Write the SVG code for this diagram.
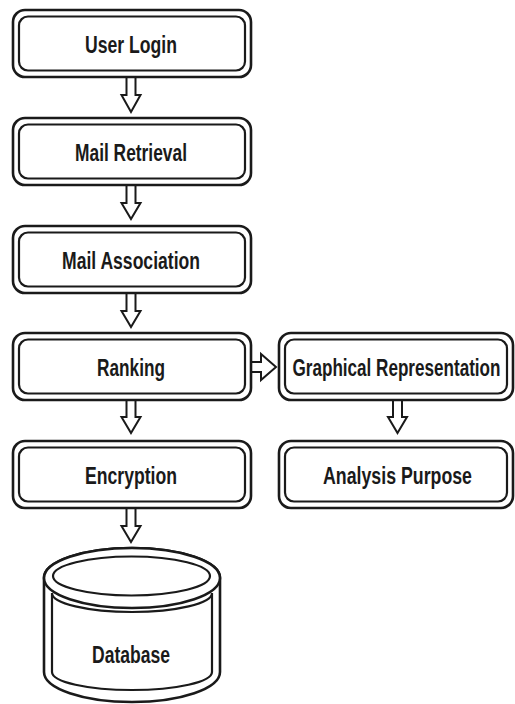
<svg xmlns="http://www.w3.org/2000/svg" width="515" height="704" viewBox="0 0 515 704">
  <style>
    .outer { fill: #ffffff; stroke: #1a1a1a; stroke-width: 2.6; }
    .inner { fill: #ffffff; stroke: #1a1a1a; stroke-width: 2.2; }
    .arrow { fill: #ffffff; stroke: #1a1a1a; stroke-width: 2; stroke-linejoin: miter; }
    .label { font-family: "Liberation Sans", Arial, sans-serif; font-weight: bold; font-size: 23px; fill: #1a1a1a; text-anchor: middle; }
  </style>
  <rect width="515" height="704" fill="#ffffff"/>

  <!-- connectors: hollow block arrows -->
  <g id="connectors">
    <polygon class="arrow" points="126.5,77 135.5,77 135.5,95 140.5,95 131,112 121.5,95 126.5,95"/>
    <polygon class="arrow" points="126.5,185 135.5,185 135.5,203 140.5,203 131,219 121.5,203 126.5,203"/>
    <polygon class="arrow" points="126.5,293 135.5,293 135.5,311 140.5,311 131,327 121.5,311 126.5,311"/>
    <polygon class="arrow" points="126.5,400 135.5,400 135.5,417 140.5,417 131,433 121.5,417 126.5,417"/>
    <polygon class="arrow" points="126.5,508 135.5,508 135.5,526 140.5,526 131,542 121.5,526 126.5,526"/>
    <polygon class="arrow" points="251,362 261,362 261,354 276,367 261,380 261,372 251,372"/>
    <polygon class="arrow" points="393,400 402,400 402,417 407,417 397.5,433 388,417 393,417"/>
  </g>

  <g id="user-login">
    <rect class="outer" x="13" y="10" width="238" height="67" rx="12"/>
    <rect class="inner" x="19" y="16.5" width="226" height="54" rx="9"/>
    <text class="label" x="131" y="52.5" textLength="92" lengthAdjust="spacingAndGlyphs">User Login</text>
  </g>

  <g id="mail-retrieval">
    <rect class="outer" x="13" y="118" width="238" height="67" rx="12"/>
    <rect class="inner" x="19" y="124.5" width="226" height="54" rx="9"/>
    <text class="label" x="131" y="160.5" textLength="112" lengthAdjust="spacingAndGlyphs">Mail Retrieval</text>
  </g>

  <g id="mail-association">
    <rect class="outer" x="13" y="226" width="238" height="67" rx="12"/>
    <rect class="inner" x="19" y="232.5" width="226" height="54" rx="9"/>
    <text class="label" x="131" y="268.5" textLength="138" lengthAdjust="spacingAndGlyphs">Mail Association</text>
  </g>

  <g id="ranking">
    <rect class="outer" x="13" y="333" width="238" height="67" rx="12"/>
    <rect class="inner" x="19" y="339.5" width="226" height="54" rx="9"/>
    <text class="label" x="131" y="375.5" textLength="68" lengthAdjust="spacingAndGlyphs">Ranking</text>
  </g>

  <g id="encryption">
    <rect class="outer" x="13" y="441" width="238" height="67" rx="12"/>
    <rect class="inner" x="19" y="447.5" width="226" height="54" rx="9"/>
    <text class="label" x="131" y="483.5" textLength="92" lengthAdjust="spacingAndGlyphs">Encryption</text>
  </g>

  <g id="graphical-representation">
    <rect class="outer" x="279" y="333" width="234" height="67" rx="12"/>
    <rect class="inner" x="285" y="339.5" width="222" height="54" rx="9"/>
    <text class="label" x="396.5" y="375.5" textLength="208" lengthAdjust="spacingAndGlyphs">Graphical Representation</text>
  </g>

  <g id="analysis-purpose">
    <rect class="outer" x="279" y="441" width="234" height="67" rx="12"/>
    <rect class="inner" x="285" y="447.5" width="222" height="54" rx="9"/>
    <text class="label" x="397.5" y="483.5" textLength="149" lengthAdjust="spacingAndGlyphs">Analysis Purpose</text>
  </g>

  <g id="database">
    <path class="outer" d="M44,578 A88,30 0 0 1 220,578 V672 A88,30 0 0 1 44,672 Z"/>
    <path class="inner" d="M52,593 A80,19 0 0 0 212,593 V672 A80,18 0 0 1 52,672 Z"/>
    <ellipse class="outer" cx="132" cy="578" rx="88" ry="30"/>
    <ellipse class="inner" cx="131.5" cy="576" rx="78.5" ry="19.5"/>
    <text class="label" x="131" y="663" textLength="78" lengthAdjust="spacingAndGlyphs">Database</text>
  </g>
</svg>
